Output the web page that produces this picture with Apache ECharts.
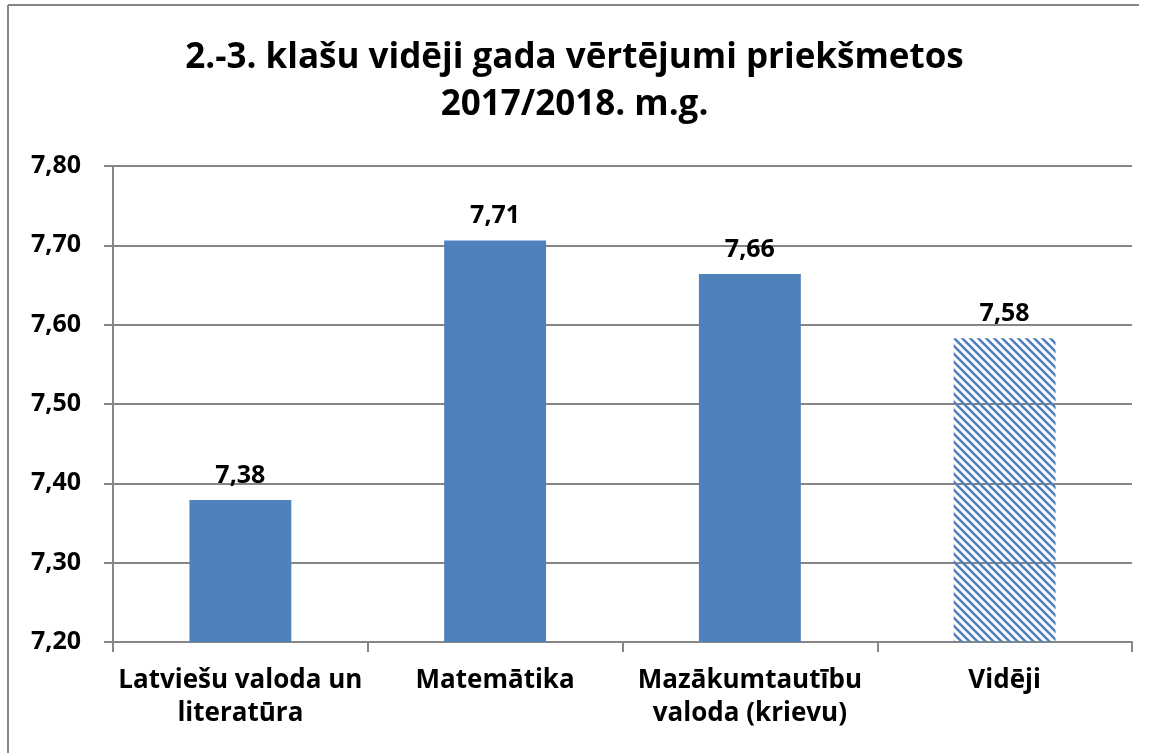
<!DOCTYPE html>
<html>
<head>
<meta charset="utf-8">
<script src="https://cdn.jsdelivr.net/npm/echarts@6/dist/echarts.min.js"></script>
<style>
  html, body { margin: 0; padding: 0; background: #fff; }
  #chart { width: 1149px; height: 753px; }
</style>
</head>
<body>
<div id="chart"></div>
<script>
// 2.-3. klasu videji gada vertejumi
var categories = ['Latviešu valoda un\nliteratūra', 'Matemātika', 'Mazākumtautību\nvaloda (krievu)', 'Vidēji'];
var values = [7.379, 7.706, 7.664, 7.583];
var hatched = [false, false, false, true];

var BLUE = '#4F81BD';
var AXIS = '#868686';
var FONT = '"Open Sans", sans-serif';

// diagonal stripe fill for the average bar
function stripePattern() {
  var c = document.createElement('canvas');
  c.width = 8; c.height = 8;
  var ctx = c.getContext('2d');
  ctx.strokeStyle = BLUE;
  ctx.lineWidth = 2.6;
  ctx.beginPath();
  ctx.moveTo(-2, -2); ctx.lineTo(10, 10);
  ctx.moveTo(-10, -2); ctx.lineTo(2, 10);
  ctx.moveTo(6, -2); ctx.lineTo(18, 10);
  ctx.stroke();
  return { image: c, repeat: 'repeat' };
}

var pattern = stripePattern();
var data = values.map(function (v, i) {
  return { value: v, itemStyle: { color: hatched[i] ? pattern : BLUE } };
});

var chart = echarts.init(document.getElementById('chart'));
chart.setOption({
  animation: false,
  title: {
    text: '2.-3. klašu vidēji gada vērtējumi priekšmetos\n2017/2018. m.g.',
    left: 'center', top: 30,
    textStyle: { fontFamily: FONT, fontWeight: 'bold', fontSize: 35, color: '#000', lineHeight: 47 }
  },
  graphic: [
    { type: 'line', shape: { x1: 8, y1: 5, x2: 1139, y2: 5 }, style: { stroke: AXIS, lineWidth: 2 } },
    { type: 'line', shape: { x1: 8, y1: 5, x2: 8, y2: 753 }, style: { stroke: AXIS, lineWidth: 2 } }
  ],
  grid: { left: 113, right: 17, top: 166, bottom: 111 },
  xAxis: {
    type: 'category',
    data: categories,
    axisLine: { lineStyle: { color: AXIS, width: 2 } },
    axisTick: { show: true, length: 10, lineStyle: { color: AXIS, width: 2 } },
    axisLabel: { interval: 0, fontFamily: FONT, fontWeight: 'bold', fontSize: 26, color: '#000', margin: 22, lineHeight: 33 }
  },
  yAxis: {
    type: 'value',
    min: 7.2, max: 7.8, interval: 0.1,
    axisLine: { show: true, lineStyle: { color: AXIS, width: 2 } },
    axisTick: { show: true, length: 9, lineStyle: { color: AXIS, width: 2 } },
    splitLine: { lineStyle: { color: AXIS, width: 2 } },
    axisLabel: {
      fontFamily: FONT, fontWeight: 'bold', fontSize: 25, color: '#000', margin: 32,
      formatter: function (v) { return v.toFixed(2).replace('.', ','); }
    }
  },
  series: [{
    type: 'bar',
    barWidth: '40%',
    data: data,
    label: {
      show: true, position: 'top', distance: 12,
      fontFamily: FONT, fontWeight: 'bold', fontSize: 25, color: '#000',
      formatter: function (p) { return p.value.toFixed(2).replace('.', ','); }
    }
  }]
});
</script>
</body>
</html>
